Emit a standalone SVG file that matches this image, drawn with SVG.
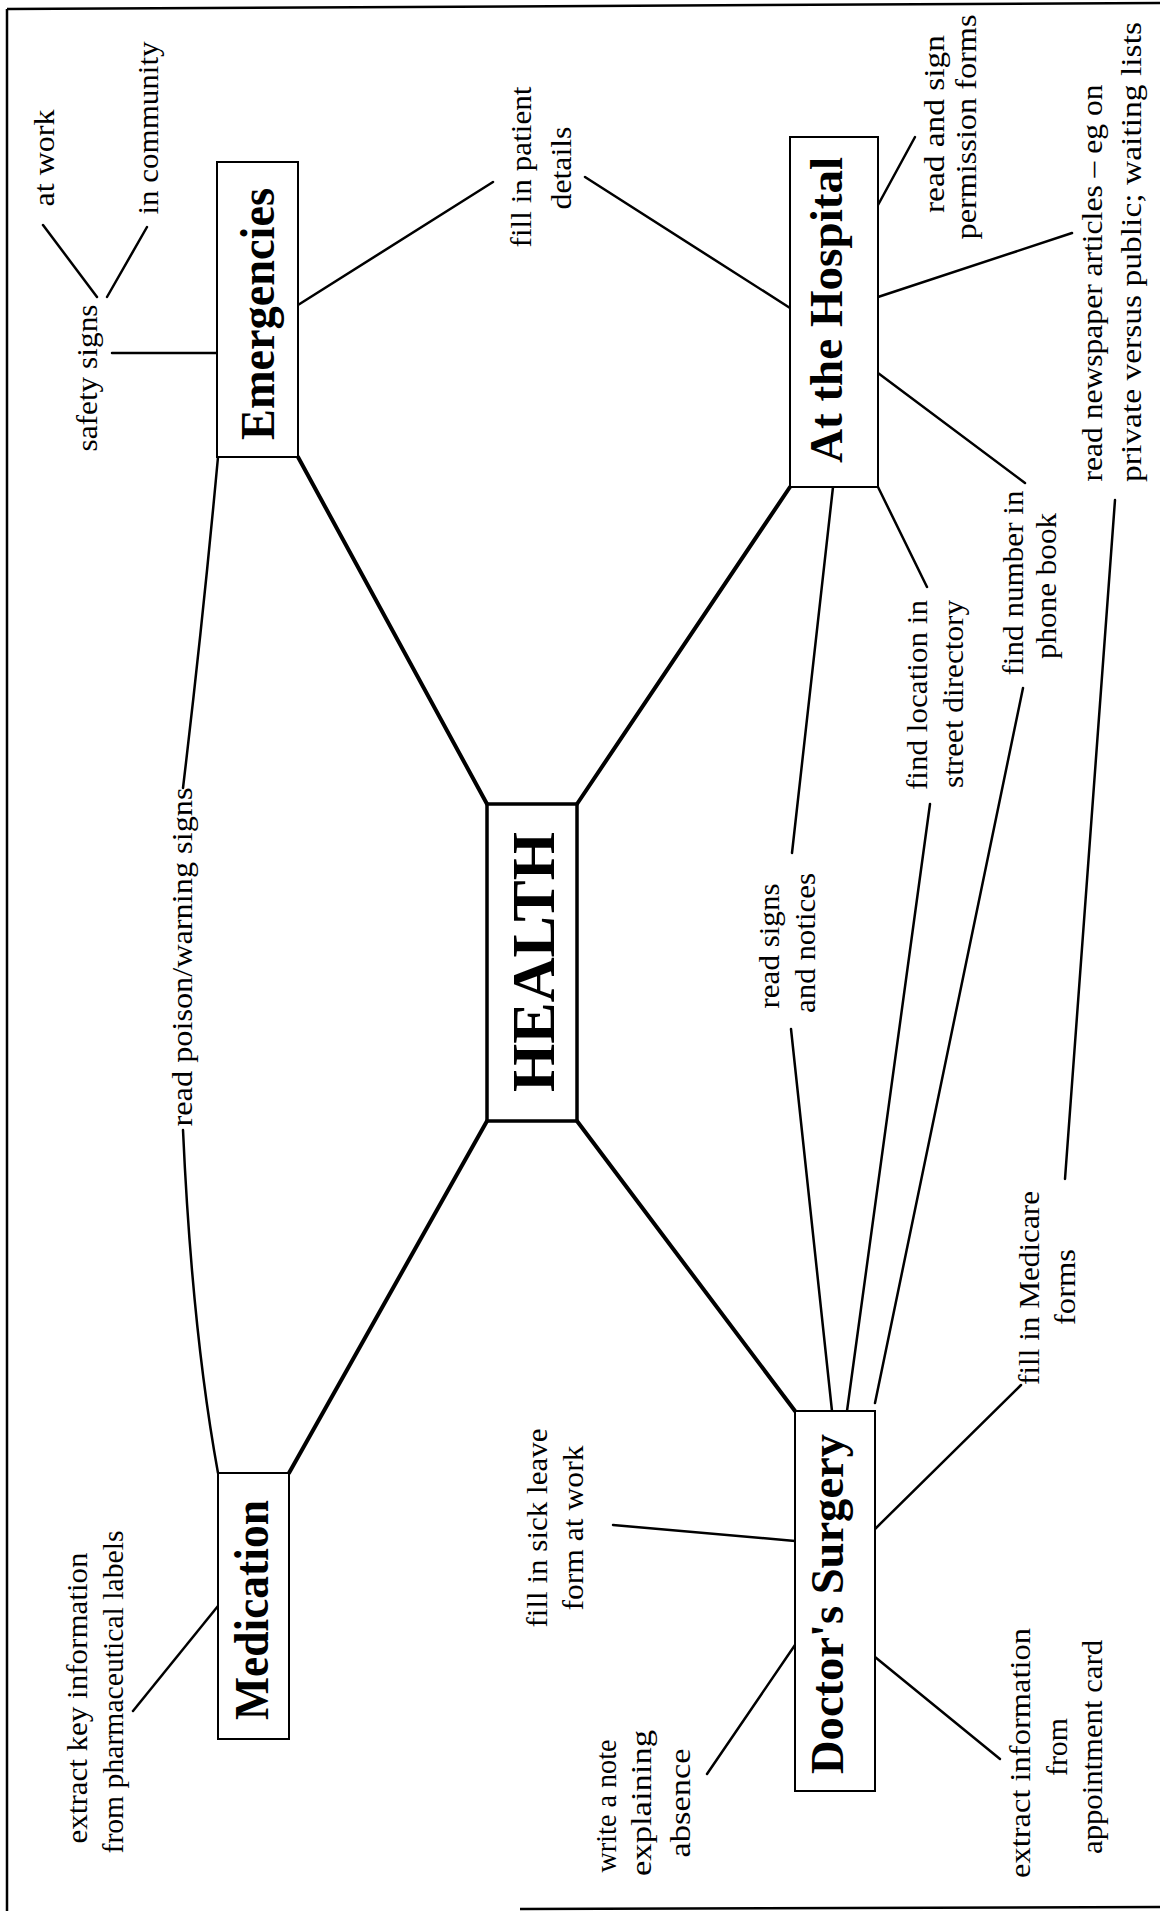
<svg xmlns="http://www.w3.org/2000/svg" width="1160" height="1911" viewBox="0 0 1160 1911">
<style>
.lbl{font-family:"Liberation Serif","Times New Roman",serif;font-size:30px;fill:#000}
.node{font-family:"Liberation Serif","Times New Roman",serif;font-weight:bold;fill:#000}
.box{fill:#fff;stroke:#000;stroke-width:2}
.main{stroke:#000;stroke-width:4;fill:none;stroke-linecap:round}
.sub{stroke:#000;stroke-width:2.5;fill:none;stroke-linecap:round}
.frame{stroke:#000;stroke-width:2.5;fill:none}
</style>
<rect width="1160" height="1911" fill="#fff"/>
<g id="frame">
<path class="frame" d="M7,9 L1160,3"/>
<path class="frame" d="M7,9 L7,1911"/>
<path class="frame" d="M520,1909 L1160,1907"/>
</g>
<g id="connectors">
<path class="main" d="M298,457 L487,804"/>
<path class="main" d="M577,804 L790,487"/>
<path class="main" d="M487,1121 L289,1473"/>
<path class="main" d="M577,1121 L795,1411"/>
<path class="sub" d="M217,353 L112,353"/>
<path class="sub" d="M97,297 L43,225"/>
<path class="sub" d="M107,297 L147,227"/>
<path class="sub" d="M298,305 L493,182"/>
<path class="sub" d="M585,177 L790,308"/>
<path class="sub" d="M878,205 L915,137"/>
<path class="sub" d="M878,297 L1072,233"/>
<path class="sub" d="M878,373 L1025,483"/>
<path class="sub" d="M833,487 L792,853"/>
<path class="sub" d="M791,1029 L832,1411"/>
<path class="sub" d="M878,487 L927,587"/>
<path class="sub" d="M930,804 L847,1411"/>
<path class="sub" d="M1023,688 L875,1403"/>
<path class="sub" d="M1115,500 L1065,1179"/>
<path class="sub" d="M875,1529 L1021,1385"/>
<path class="sub" d="M875,1657 L1000,1759"/>
<path class="sub" d="M613,1525 L795,1541"/>
<path class="sub" d="M707,1774 L795,1645"/>
<path class="sub" d="M133,1711 L218,1606"/>
<path class="sub" d="M218,457 Q203,620 183,788"/>
<path class="sub" d="M183,1130 Q192,1330 218,1473"/>
</g>
<g id="node-health">
<rect class="box" x="487" y="804" width="90" height="317" style="stroke-width:3.5"/>
<text class="node" transform="rotate(-90)" x="-962" y="554" font-size="62" text-anchor="middle" textLength="260" lengthAdjust="spacingAndGlyphs">HEALTH</text>
</g>
<g id="node-emergencies">
<rect class="box" x="217" y="162" width="81" height="295"/>
<text class="node" transform="rotate(-90)" x="-314" y="274" font-size="48" text-anchor="middle" textLength="252" lengthAdjust="spacingAndGlyphs">Emergencies</text>
</g>
<g id="node-hospital">
<rect class="box" x="790" y="137" width="88" height="350"/>
<text class="node" transform="rotate(-90)" x="-310" y="842" font-size="46" text-anchor="middle" textLength="306" lengthAdjust="spacingAndGlyphs">At the Hospital</text>
</g>
<g id="node-medication">
<rect class="box" x="218" y="1473" width="71" height="266"/>
<text class="node" transform="rotate(-90)" x="-1610" y="268" font-size="48" text-anchor="middle" textLength="220" lengthAdjust="spacingAndGlyphs">Medication</text>
</g>
<g id="node-doctors">
<rect class="box" x="795" y="1411" width="80" height="380"/>
<text class="node" transform="rotate(-90)" x="-1604" y="843" font-size="46" text-anchor="middle" textLength="340" lengthAdjust="spacingAndGlyphs">Doctor's Surgery</text>
</g>
<g id="labels">
<g id="lbl-safety">
<text class="lbl" transform="rotate(-90)" x="-378" y="97" text-anchor="middle" textLength="147" lengthAdjust="spacingAndGlyphs">safety signs</text>
</g>
<g id="lbl-atwork">
<text class="lbl" transform="rotate(-90)" x="-158" y="54" text-anchor="middle" textLength="97" lengthAdjust="spacingAndGlyphs">at work</text>
</g>
<g id="lbl-community">
<text class="lbl" transform="rotate(-90)" x="-128" y="158" text-anchor="middle" textLength="173" lengthAdjust="spacingAndGlyphs">in community</text>
</g>
<g id="lbl-patient">
<text class="lbl" transform="rotate(-90)" x="-167" y="531" font-size="31" text-anchor="middle" textLength="161" lengthAdjust="spacingAndGlyphs">fill in patient</text>
<text class="lbl" transform="rotate(-90)" x="-168" y="571" font-size="31" text-anchor="middle" textLength="83" lengthAdjust="spacingAndGlyphs">details</text>
</g>
<g id="lbl-permission">
<text class="lbl" transform="rotate(-90)" x="-124" y="944" text-anchor="middle" textLength="178" lengthAdjust="spacingAndGlyphs">read and sign</text>
<text class="lbl" transform="rotate(-90)" x="-127" y="976" text-anchor="middle" textLength="225" lengthAdjust="spacingAndGlyphs">permission forms</text>
</g>
<g id="lbl-newspaper">
<text class="lbl" transform="rotate(-90)" x="-283" y="1102" font-size="32" text-anchor="middle" textLength="397" lengthAdjust="spacingAndGlyphs">read newspaper articles – eg on</text>
<text class="lbl" transform="rotate(-90)" x="-252" y="1141" font-size="32" text-anchor="middle" textLength="460" lengthAdjust="spacingAndGlyphs">private versus public; waiting lists</text>
</g>
<g id="lbl-location">
<text class="lbl" transform="rotate(-90)" x="-695" y="927" text-anchor="middle" textLength="190" lengthAdjust="spacingAndGlyphs">find location in</text>
<text class="lbl" transform="rotate(-90)" x="-694" y="963" text-anchor="middle" textLength="188" lengthAdjust="spacingAndGlyphs">street directory</text>
</g>
<g id="lbl-phone">
<text class="lbl" transform="rotate(-90)" x="-583" y="1023" text-anchor="middle" textLength="185" lengthAdjust="spacingAndGlyphs">find number in</text>
<text class="lbl" transform="rotate(-90)" x="-586" y="1056" text-anchor="middle" textLength="146" lengthAdjust="spacingAndGlyphs">phone book</text>
</g>
<g id="lbl-signs">
<text class="lbl" transform="rotate(-90)" x="-946" y="779" text-anchor="middle" textLength="125" lengthAdjust="spacingAndGlyphs">read signs</text>
<text class="lbl" transform="rotate(-90)" x="-943" y="815" text-anchor="middle" textLength="140" lengthAdjust="spacingAndGlyphs">and notices</text>
</g>
<g id="lbl-poison">
<text class="lbl" transform="rotate(-90)" x="-957" y="192" text-anchor="middle" textLength="339" lengthAdjust="spacingAndGlyphs">read poison/warning signs</text>
</g>
<g id="lbl-medicare">
<text class="lbl" transform="rotate(-90)" x="-1288" y="1039" text-anchor="middle" textLength="194" lengthAdjust="spacingAndGlyphs">fill in Medicare</text>
<text class="lbl" transform="rotate(-90)" x="-1287" y="1075" text-anchor="middle" textLength="76" lengthAdjust="spacingAndGlyphs">forms</text>
</g>
<g id="lbl-appointment">
<text class="lbl" transform="rotate(-90)" x="-1753" y="1030" text-anchor="middle" textLength="250" lengthAdjust="spacingAndGlyphs">extract information</text>
<text class="lbl" transform="rotate(-90)" x="-1747" y="1067" text-anchor="middle" textLength="58" lengthAdjust="spacingAndGlyphs">from</text>
<text class="lbl" transform="rotate(-90)" x="-1747" y="1102" text-anchor="middle" textLength="214" lengthAdjust="spacingAndGlyphs">appointment card</text>
</g>
<g id="lbl-sickleave">
<text class="lbl" transform="rotate(-90)" x="-1528" y="547" text-anchor="middle" textLength="199" lengthAdjust="spacingAndGlyphs">fill in sick leave</text>
<text class="lbl" transform="rotate(-90)" x="-1528" y="583" text-anchor="middle" textLength="165" lengthAdjust="spacingAndGlyphs">form at work</text>
</g>
<g id="lbl-note">
<text class="lbl" transform="rotate(-90)" x="-1806" y="616" text-anchor="middle" textLength="133" lengthAdjust="spacingAndGlyphs">write a note</text>
<text class="lbl" transform="rotate(-90)" x="-1803" y="651" text-anchor="middle" textLength="146" lengthAdjust="spacingAndGlyphs">explaining</text>
<text class="lbl" transform="rotate(-90)" x="-1803" y="690" text-anchor="middle" textLength="109" lengthAdjust="spacingAndGlyphs">absence</text>
</g>
<g id="lbl-pharma">
<text class="lbl" transform="rotate(-90)" x="-1698" y="87" text-anchor="middle" textLength="291" lengthAdjust="spacingAndGlyphs">extract key information</text>
<text class="lbl" transform="rotate(-90)" x="-1692" y="123" text-anchor="middle" textLength="323" lengthAdjust="spacingAndGlyphs">from pharmaceutical labels</text>
</g>
</g>
</svg>
